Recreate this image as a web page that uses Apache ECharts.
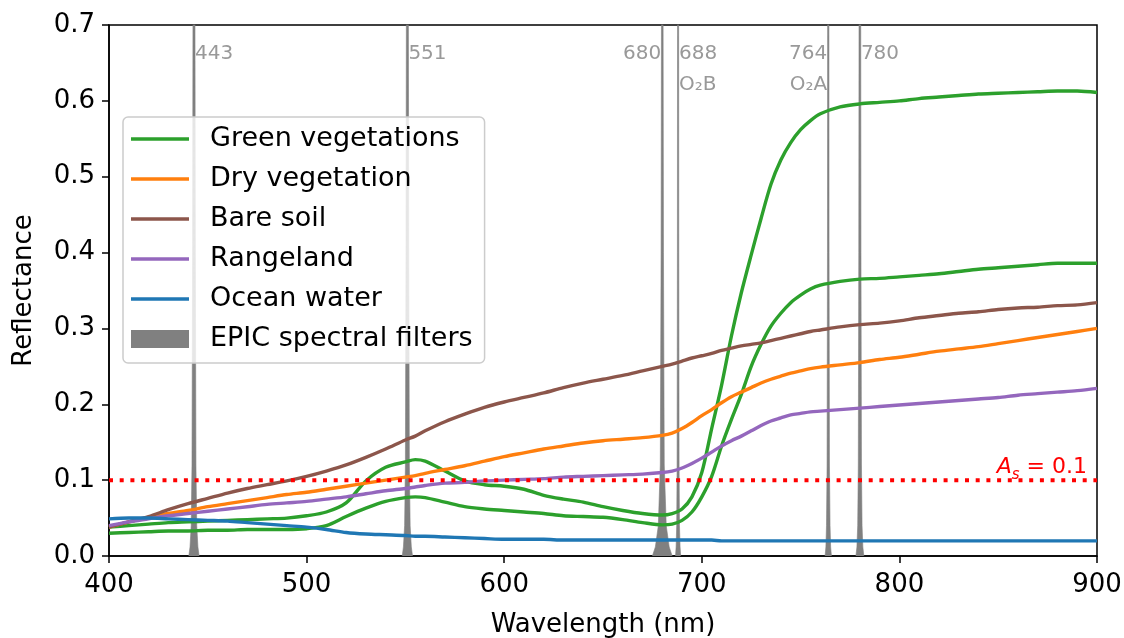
<!DOCTYPE html>
<html>
<head>
<meta charset="UTF-8">
<title>Reflectance spectra</title>
<script src="https://cdn.jsdelivr.net/npm/echarts@6/dist/echarts.min.js"></script>
<style>
  html, body { margin: 0; padding: 0; background: #fff; }
  #chart { width: 1124px; height: 638px; }
</style>
</head>
<body>
<div id="chart"></div>
<script>
// wavelengths (nm) shared by all surface spectra
var wl = [400,410,420,430,440,450,460,470,480,490,500,510,520,530,540,550,555,560,570,580,590,600,610,620,630,640,650,660,670,680,685,690,695,700,705,710,715,720,725,730,735,740,745,750,755,760,770,780,790,800,810,820,830,840,850,860,870,880,890,900];

var greenHigh = [.038,.040,.042,.044,.045,.046,.047,.048,.049,.050,.053,.058,.070,.099,.117,.124,.127,.125,.112,.099,.094,.092,.088,.080,.075,.071,.065,.060,.056,.054,.056,.062,.078,.110,.168,.225,.290,.347,.397,.445,.490,.522,.545,.562,.574,.583,.592,.596,.598,.600,.603,.605,.607,.609,.610,.611,.612,.613,.613,.611];
var greenLow = [.030,.031,.032,.033,.033,.034,.034,.035,.035,.035,.036,.040,.052,.063,.072,.077,.078,.077,.071,.065,.062,.060,.058,.056,.053,.052,.051,.048,.044,.041,.042,.047,.058,.078,.105,.145,.180,.213,.250,.279,.303,.320,.334,.344,.352,.357,.362,.365,.366,.368,.370,.372,.375,.378,.380,.382,.384,.386,.386,.386];
var dryVeg = [.038,.045,.051,.056,.060,.065,.069,.073,.077,.081,.084,.088,.092,.096,.100,.104,.106,.109,.114,.119,.125,.131,.136,.141,.145,.149,.152,.154,.156,.159,.162,.168,.176,.185,.193,.202,.210,.216,.222,.228,.233,.237,.241,.244,.247,.249,.252,.255,.259,.262,.266,.270,.273,.276,.280,.284,.288,.292,.296,.300];
var bareSoil = [.038,.045,.052,.061,.069,.076,.083,.089,.094,.099,.105,.112,.120,.130,.141,.153,.158,.165,.177,.187,.196,.203,.209,.215,.222,.228,.233,.238,.244,.250,.253,.257,.261,.264,.267,.271,.274,.277,.279,.281,.284,.287,.290,.293,.296,.298,.302,.305,.307,.310,.314,.317,.320,.322,.325,.327,.328,.330,.331,.334];
var rangeland = [.040,.045,.049,.053,.056,.059,.062,.065,.068,.070,.072,.075,.078,.082,.086,.089,.091,.093,.096,.097,.099,.100,.101,.102,.104,.105,.106,.107,.108,.110,.112,.116,.122,.129,.137,.145,.152,.158,.165,.172,.178,.182,.186,.188,.190,.191,.193,.195,.197,.199,.201,.203,.205,.207,.209,.212,.214,.216,.218,.221];
var ocean = [.049,.050,.050,.049,.048,.047,.046,.044,.042,.040,.038,.035,.031,.029,.028,.027,.026,.026,.025,.024,.023,.022,.022,.022,.021,.021,.021,.021,.021,.021,.021,.021,.021,.021,.021,.020,.020,.020,.020,.020,.020,.020,.020,.020,.020,.020,.020,.020,.020,.020,.020,.020,.020,.020,.020,.020,.020,.020,.020,.020];

// EPIC filters: centre, labels, and transmission profile (offset nm, level)
var filterCenters = [443, 551, 680, 688, 764, 780];
var filterLabels = ['443', '551', '680', '688', '764', '780'];
var filterSubLabels = ['', '', '', 'O₂B', 'O₂A', ''];
var filterSide = ['right', 'right', 'left', 'right', 'left', 'right'];
var filterOffsets = [
  [-2.6,-2.0,-1.4,-1.0,-0.7,-0.45,0,0.45,0.7,1.0,1.4,2.0,2.6],
  [-2.6,-2.0,-1.4,-1.0,-0.7,-0.45,0,0.45,0.7,1.0,1.4,2.0,2.6],
  [-5.0,-3.5,-2.0,-1.0,-0.6,-0.35,0,0.35,0.6,1.0,2.0,3.5,5.0],
  [-1.3,-1.0,-0.7,-0.5,-0.35,-0.25,0,0.25,0.35,0.5,0.7,1.0,1.3],
  [-1.6,-1.2,-0.9,-0.6,-0.4,-0.3,0,0.3,0.4,0.6,0.9,1.2,1.6],
  [-2.0,-1.5,-1.1,-0.8,-0.55,-0.4,0,0.4,0.55,0.8,1.1,1.5,2.0]
];
var filterLevels = [0,0.012,0.04,0.12,0.4,0.8,1.05,0.8,0.4,0.12,0.04,0.012,0];

var xTicks = [400, 500, 600, 700, 800, 900];
var yTicks = [0.0, 0.1, 0.2, 0.3, 0.4, 0.5, 0.6, 0.7];
var albedoLine = 0.1;

function pairs(xs, ys) {
  return xs.map(function (x, i) { return [x, ys[i]]; });
}

var chart = echarts.init(document.getElementById('chart'));
var series = [];

// filters first so the spectra are drawn on top
filterCenters.forEach(function (c, k) {
  series.push({
    name: 'EPIC spectral filters',
    type: 'line',
    symbol: 'none',
    color: '#808080',
    lineStyle: {width: 0.6, color: '#808080'},
    areaStyle: {color: '#808080', opacity: 1},
    z: 1,
    data: filterOffsets[k].map(function (o, i) { return [c + o, filterLevels[i]]; })
  });
});

function spectrum(name, color, ys) {
  return {
    name: name, type: 'line', symbol: 'none', smooth: 0.3, z: 3,
    color: color, lineStyle: {width: 3.4, color: color},
    data: pairs(wl, ys)
  };
}
series.push(spectrum('Green vegetations', '#2ca02c', greenHigh));
series.push(spectrum('Green vegetations', '#2ca02c', greenLow));
series.push(spectrum('Dry vegetation', '#ff7f0e', dryVeg));
series.push(spectrum('Bare soil', '#8c564b', bareSoil));
series.push(spectrum('Rangeland', '#9467bd', rangeland));
series.push(spectrum('Ocean water', '#1f77b4', ocean));

// A_s = 0.1 reference line
series.push({
  name: 'As', type: 'line', symbol: 'none', z: 4,
  lineStyle: {width: 4, color: '#ff0000', type: [4, 6.7], cap: 'butt'},
  data: [[xTicks[0], albedoLine], [xTicks[xTicks.length - 1], albedoLine]],
  markPoint: {
    symbol: 'circle', symbolSize: 0,
    data: [{coord: [xTicks[xTicks.length - 1], albedoLine]}],
    label: {
      show: true, position: 'left', distance: 10, offset: [0, -16],
      formatter: '{a|A}{s|s}{b| = 0.1}',
      rich: {
        a: {fontStyle: 'italic', fontSize: 22, color: '#ff0000', fontFamily: 'DejaVu Sans', lineHeight: 28, verticalAlign: 'bottom'},
        s: {fontStyle: 'italic', fontSize: 15, color: '#ff0000', fontFamily: 'DejaVu Sans', lineHeight: 28, verticalAlign: 'bottom', padding: [0, 0, -4, 0]},
        b: {fontSize: 22, color: '#ff0000', fontFamily: 'DejaVu Sans', lineHeight: 28, verticalAlign: 'bottom'}
      }
    }
  }
});

// filter wavelength labels
var labelTop = [], labelSub = [];
filterCenters.forEach(function (c, k) {
  labelTop.push({value: [c, 0.662], name: filterLabels[k],
    label: {position: filterSide[k]}});
  if (filterSubLabels[k]) {
    labelSub.push({value: [c, 0.621], name: filterSubLabels[k],
      label: {position: filterSide[k]}});
  }
});
series.push({
  type: 'scatter', symbolSize: 0, z: 5, silent: true,
  data: labelTop.concat(labelSub),
  label: {show: true, distance: 1, formatter: '{b}', color: '#7f7f7f', fontSize: 20, fontFamily: 'DejaVu Sans'}
});

var lineIcon = 'path://M0,0L58,0L58,3.4L0,3.4Z';

var option = {
  animation: false,
  backgroundColor: '#fff',
  textStyle: {fontFamily: 'DejaVu Sans'},
  grid: {left: 109, right: 27, top: 25, bottom: 82, outerBoundsMode: 'none', containLabel: false,
    show: true, borderColor: '#000', borderWidth: 1.5, backgroundColor: 'transparent'},
  legend: {
    orient: 'vertical', left: 123, top: 117,
    padding: [7, 12, 9, 8], itemGap: 10, itemWidth: 58, itemHeight: 18,
    backgroundColor: 'rgba(255,255,255,0.8)', borderColor: '#cccccc', borderWidth: 1.5, borderRadius: 5,
    textStyle: {fontSize: 27, color: '#000', fontFamily: 'DejaVu Sans', lineHeight: 30, padding: [0, 0, 0, 16]},
    data: [
      {name: 'Green vegetations', icon: lineIcon},
      {name: 'Dry vegetation', icon: lineIcon},
      {name: 'Bare soil', icon: lineIcon},
      {name: 'Rangeland', icon: lineIcon},
      {name: 'Ocean water', icon: lineIcon},
      {name: 'EPIC spectral filters', icon: 'rect'}
    ]
  },
  xAxis: {
    type: 'value', min: xTicks[0], max: xTicks[xTicks.length - 1], interval: 100,
    name: 'Wavelength (nm)', nameLocation: 'middle', nameGap: 56,
    nameTextStyle: {fontSize: 26, color: '#000', fontFamily: 'DejaVu Sans'},
    axisLine: {show: true, lineStyle: {color: '#000', width: 1.5}},
    axisTick: {show: true, length: 7, lineStyle: {color: '#000', width: 1.5}},
    axisLabel: {fontSize: 26, color: '#000', margin: 16, fontFamily: 'DejaVu Sans'},
    splitLine: {show: false}
  },
  yAxis: {
    type: 'value', min: 0, max: yTicks[yTicks.length - 1], interval: 0.1,
    name: 'Reflectance', nameLocation: 'middle', nameGap: 72,
    nameTextStyle: {fontSize: 26, color: '#000', fontFamily: 'DejaVu Sans'},
    axisLine: {show: true, lineStyle: {color: '#000', width: 1.5}},
    axisTick: {show: true, length: 7, lineStyle: {color: '#000', width: 1.5}},
    axisLabel: {fontSize: 26, color: '#000', margin: 14, fontFamily: 'DejaVu Sans',
      formatter: function (v) { return v.toFixed(1); }},
    splitLine: {show: false}
  },
  series: series
};

chart.setOption(option);
</script>
</body>
</html>
